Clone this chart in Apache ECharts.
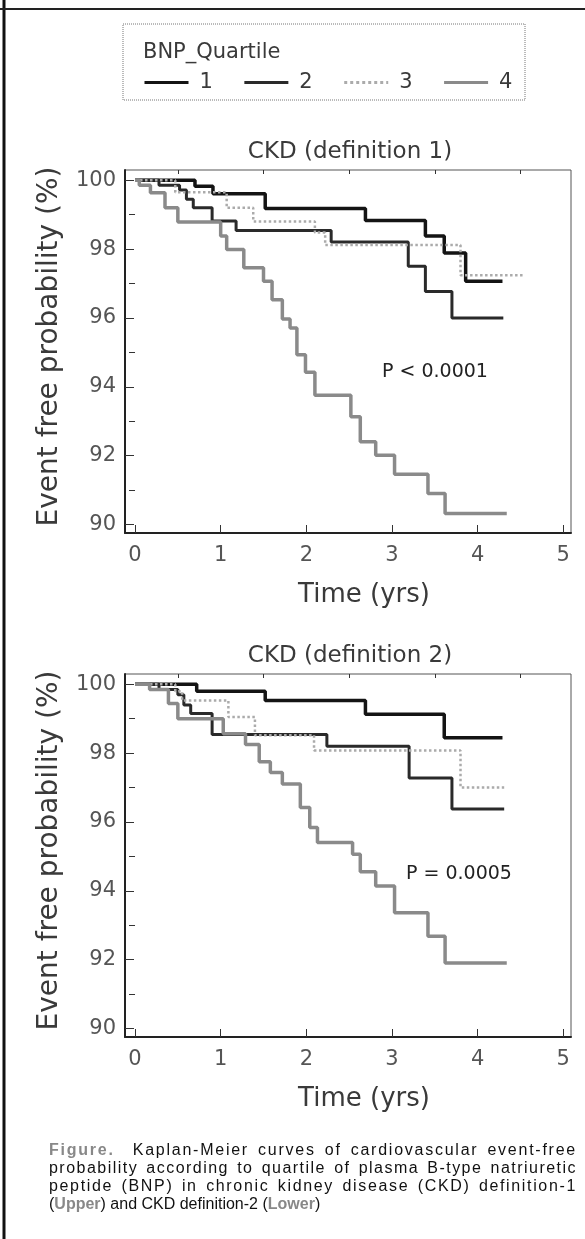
<!DOCTYPE html>
<html>
<head>
<meta charset="utf-8">
<title>BNP quartile KM curves</title>
<script src="https://cdn.jsdelivr.net/npm/echarts@6/dist/echarts.min.js"></script>
<style>
  body { margin: 0; background: #fff; }
  #main { width: 585px; height: 1239px; }
  #caption {
    position: absolute; left: 49px; top: 1141px; width: 528px;
    font-family: 'Liberation Sans', Arial, sans-serif; font-size: 16px;
    line-height: 18px; color: #111;
  }
  #caption div { white-space: nowrap; }
  #caption div.justified { text-align: justify; text-align-last: justify; }
  #caption b { color: #888; }
</style>
</head>
<body>
<div id="main"></div>
<div id="caption">
  <div class="fill"><span><b>Figure.</b>&nbsp; Kaplan-Meier curves of cardiovascular event-free</span></div>
  <div class="fill"><span>probability according to quartile of plasma B-type natriuretic</span></div>
  <div class="fill"><span>peptide (BNP) in chronic kidney disease (CKD) definition-1</span></div>
  <div><span>(<b>Upper</b>) and CKD definition-2 (<b>Lower</b>)</span></div>
</div>
<script type="text/javascript">
// quartile names and panel texts
var quartiles = ['1', '2', '3', '4'];
var panelTitles = ['CKD (definition 1)', 'CKD (definition 2)'];
var pTexts = ['P < 0.0001', 'P = 0.0005'];

// tick values
var xLabelValues = [0, 1, 2, 3, 4, 5];
var xMinorValues = [0.5, 1.5, 2.5, 3.5, 4.5];
var yLabelValues = [90, 92, 94, 96, 98, 100];
var yMinorValues = [91, 93, 95, 97, 99];

// Kaplan-Meier steps [time (yrs), event free %], CKD definition 1
var def1Q1 = [[0, 100], [0.70, 99.83], [0.91, 99.61], [1.52, 99.18], [2.69, 98.83], [3.39, 98.38], [3.61, 97.89], [3.86, 97.07], [4.29, 97.07]];
var def1Q2 = [[0, 100], [0.28, 99.86], [0.52, 99.72], [0.6, 99.45], [0.68, 99.2], [0.9, 98.82], [1.18, 98.54], [2.29, 98.21], [3.19, 97.5], [3.39, 96.77], [3.7, 96.0], [4.3, 96.0]];
var def1Q3 = [[0, 100], [0.47, 99.65], [1.07, 99.2], [1.38, 98.8], [2.1, 98.48], [2.22, 98.12], [3.8, 97.24], [4.54, 97.24]];
var def1Q4 = [[0, 100], [0.05, 99.86], [0.18, 99.64], [0.35, 99.2], [0.5, 98.79], [1.0, 98.38], [1.07, 97.99], [1.27, 97.46], [1.5, 97.07], [1.6, 96.53], [1.72, 95.97], [1.81, 95.71], [1.89, 94.93], [1.99, 94.42], [2.1, 93.75], [2.52, 93.13], [2.63, 92.4], [2.81, 92.01], [3.03, 91.46], [3.42, 90.9], [3.62, 90.32], [4.34, 90.32]];

// CKD definition 2
var def2Q1 = [[0, 100], [0.72, 99.8], [1.52, 99.53], [2.69, 99.13], [3.61, 98.45], [4.29, 98.45]];
var def2Q2 = [[0, 100], [0.28, 99.85], [0.5, 99.7], [0.57, 99.4], [0.65, 99.15], [0.9, 98.54], [2.24, 98.2], [3.2, 97.28], [3.7, 96.38], [4.31, 96.38]];
var def2Q3 = [[0, 100], [0.47, 99.8], [0.55, 99.53], [1.09, 99.05], [1.4, 98.52], [2.09, 98.08], [3.8, 97.0], [4.31, 97.0]];
var def2Q4 = [[0, 100], [0.17, 99.85], [0.39, 99.44], [0.5, 99.0], [1.03, 98.56], [1.29, 98.25], [1.45, 97.75], [1.58, 97.44], [1.72, 97.1], [1.93, 96.42], [2.04, 95.84], [2.13, 95.4], [2.54, 95.06], [2.63, 94.55], [2.81, 94.14], [3.03, 93.36], [3.42, 92.68], [3.62, 91.9], [4.34, 91.9]];

var panels = [[def1Q1, def1Q2, def1Q3, def1Q4], [def2Q1, def2Q2, def2Q3, def2Q4]];

var lineStyles = [
  { color: '#141414', width: 3.5, type: 'solid' },
  { color: '#2a2a2a', width: 3, type: 'solid' },
  { color: '#ababab', width: 2.5, type: 'dotted' },
  { color: '#8a8a8a', width: 3.5, type: 'solid' }
];

var font = '"DejaVu Sans", Verdana, sans-serif';
var gridTops = [170, 674];
var gridHeight = 363;

// spread the full caption lines with letter spacing (measured before justifying)
document.querySelectorAll('#caption div.fill').forEach(function (div) {
  var span = div.querySelector('span');
  var w = span.getBoundingClientRect().width;
  var n = span.textContent.length;
  span.style.letterSpacing = ((528 - w) / n * 0.85).toFixed(2) + 'px';
  div.className = 'justified';
});

var myChart = echarts.init(document.getElementById('main'));

var grids = [], xAxes = [], yAxes = [], series = [], graphics = [];

function label(text, x, y, size, fill, align) {
  return {
    type: 'text',
    style: { text: text, x: x, y: y, font: size + 'px ' + font, fill: fill,
      align: align, verticalAlign: 'middle', textAlign: align, textVerticalAlign: 'middle' }
  };
}

gridTops.forEach(function (top, g) {
  grids.push({ left: 125, top: top, width: 446, height: gridHeight, show: true, borderColor: '#555', borderWidth: 1 });

  xAxes.push({
    gridIndex: g, type: 'value', min: -0.117, max: 5.09,
    axisLine: { show: true, onZero: false, lineStyle: { color: '#222', width: 2 } },
    axisTick: { inside: true, length: 8, customValues: xLabelValues, lineStyle: { color: '#333' } },
    axisLabel: { customValues: xLabelValues, fontSize: 21, color: '#555', margin: 12, fontFamily: font },
    splitLine: { show: false }
  });
  xAxes.push({
    gridIndex: g, type: 'value', min: -0.117, max: 5.09,
    axisLine: { show: false },
    axisTick: { inside: true, length: 4, customValues: xMinorValues, lineStyle: { color: '#333' } },
    axisLabel: { show: false }, splitLine: { show: false }
  });

  yAxes.push({
    gridIndex: g, type: 'value', min: 89.75, max: 100.3,
    axisLine: { show: true, onZero: false, lineStyle: { color: '#222', width: 2 } },
    axisTick: { inside: true, length: 9, customValues: yLabelValues, lineStyle: { color: '#333' } },
    axisLabel: { customValues: yLabelValues, fontSize: 21, color: '#555', margin: 9, fontFamily: font },
    splitLine: { show: false },
    name: 'Event free probability (%)', nameLocation: 'middle', nameGap: 61,
    nameTextStyle: { fontSize: 28, color: '#3a3a3a', fontFamily: font, padding: [0, 0, 0, 10] }
  });
  yAxes.push({
    gridIndex: g, type: 'value', min: 89.75, max: 100.3,
    axisLine: { show: false },
    axisTick: { inside: true, length: 6, customValues: yMinorValues, lineStyle: { color: '#333' } },
    axisLabel: { show: false }, splitLine: { show: false }
  });

  panels[g].forEach(function (data, q) {
    series.push({
      name: quartiles[q], type: 'line', step: 'end', symbol: 'none',
      xAxisIndex: g * 2, yAxisIndex: g * 2, data: data,
      lineStyle: lineStyles[q], itemStyle: { color: lineStyles[q].color },
      silent: true, animation: false
    });
  });

  graphics.push(label(panelTitles[g], 350, top - 18, 23, '#3a3a3a', 'center'));
  graphics.push(label(pTexts[g], g === 0 ? 382 : 406, top + (g === 0 ? 202 : 200), 19, '#222', 'left'));
  graphics.push(label('Time (yrs)', 364, top + gridHeight + 62, 26, '#3a3a3a', 'center'));
});

// legend frame and title, outer figure border
graphics.push({ type: 'rect', shape: { x: 123, y: 24, width: 402, height: 76 },
  style: { fill: 'none', stroke: '#777', lineWidth: 1, lineDash: [1, 1] } });
graphics.push(label('BNP_Quartile', 143, 53, 21, '#3a3a3a', 'left'));
graphics.push({ type: 'line', shape: { x1: 4, y1: 0, x2: 4, y2: 1239 }, style: { stroke: '#111', lineWidth: 3 } });
graphics.push({ type: 'line', shape: { x1: 0, y1: 9, x2: 585, y2: 9 }, style: { stroke: '#222', lineWidth: 2 } });

var option = {
  backgroundColor: '#fff',
  animation: false,
  legend: {
    data: quartiles, left: 138, top: 67, itemWidth: 44, itemHeight: 14, itemGap: 30,
    selectedMode: false,
    itemStyle: { opacity: 0 },
    lineStyle: { width: 3 },
    textStyle: { fontSize: 21, color: '#3a3a3a', fontFamily: font, padding: [0, 0, 0, 6] }
  },
  grid: grids,
  xAxis: xAxes,
  yAxis: yAxes,
  series: series,
  graphic: graphics
};

myChart.setOption(option);
</script>
</body>
</html>
